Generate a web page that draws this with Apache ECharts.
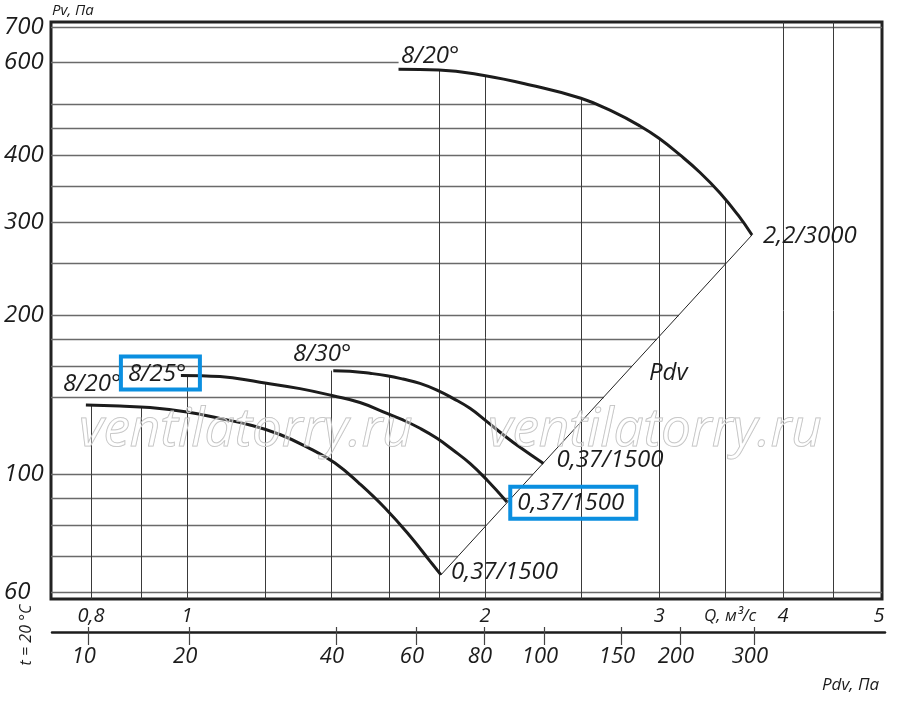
<!DOCTYPE html>
<html>
<head>
<meta charset="utf-8">
<script src="https://cdn.jsdelivr.net/npm/echarts@6/dist/echarts.min.js"></script>
<style>
html,body{margin:0;padding:0;background:#fff;}
#c{width:900px;height:702px;}
</style>
</head>
<body>
<div id="c"></div>
<script>
// ---------- axis ranges ----------
const Q_MIN = 0.729, Q_MAX = 5.035;        // flow Q, m³/s (log)
const PV_MIN = 58.17, PV_MAX = 715.1;      // pressure Pv, Pa (log)
const PDQ_MIN = 0.7305, PDQ_MAX = 5.0705;  // Pdv scale line, expressed in Q

// ---------- tick labels ----------
const qTickLabels = [0.8, 1, 2, 3, 4, 5];
const pvTickLabels = [60, 100, 200, 300, 400, 600, 700];
const pdvTickLabels = [10, 20, 40, 60, 80, 100, 150, 200, 300];
const pdvTickQ = [0.794, 1.005, 1.414, 1.703, 1.995, 2.294, 2.744, 3.147, 3.738];

// ---------- grid lines (value, where they stop) ----------
const pvGridValues = [60, 70, 80, 90, 100, 140, 160, 180, 200, 250, 300, 350, 400, 450, 500, 600, 700];
const pvGridEndQ   = [null, 1.878, 2.005, 2.124, 2.236, 2.637, 2.815, 2.982, 3.140, 3.503, 3.642, 3.409, 3.15, 2.894, 2.584, 1.636, null];
const qGridValues  = [0.8, 0.9, 1.0, 1.2, 1.4, 1.6, 1.8, 2.0, 2.5, 3.0, 3.5, 4.0, 4.5];
const qGridTopPv   = [135.1, 134.0, 153.6, 148.5, 157.0, 153.4, 580.4, 566.5, 513.3, 431.0, 330.5, null, null];

// ---------- fan curves ----------
// 8/20°, 2,2/3000
const curveA_Q  = [1.6357, 1.797, 1.9953, 2.2206, 2.4998, 2.6934, 2.868, 2.9976, 3.1476, 3.2975, 3.4545, 3.6022, 3.7215];
const curveA_Pv = [582.2, 580.4, 566.6, 543.7, 513.3, 484.2, 455.0, 431.3, 401.1, 371.7, 340.0, 309.0, 283.2];
// 8/30°, 0,37/1500
const curveB_Q  = [1.4054, 1.461, 1.5306, 1.5923, 1.6527, 1.7193, 1.7887, 1.8565, 1.9313, 2.0093, 2.0854, 2.1695, 2.2914];
const curveB_Pv = [157.0, 156.6, 155.2, 153.6, 151.4, 148.6, 144.3, 139.2, 133.3, 125.8, 118.95, 112.5, 104.9];
// 8/25°, 0,37/1500
const curveC_Q  = [0.9861, 1.0798, 1.185, 1.3006, 1.4043, 1.4954, 1.5923, 1.6527, 1.7193, 1.7887, 1.8565, 1.9313, 2.0093, 2.1049];
const curveC_Pv = [153.8, 153.0, 149.3, 145.2, 140.75, 136.7, 130.4, 126.7, 122.2, 117.0, 111.2, 104.9, 97.6, 88.7];
// 8/20°, 0,37/1500
const curveD_Q  = [0.7906, 0.8557, 0.9176, 1.0, 1.0798, 1.1578, 1.2415, 1.3312, 1.4109, 1.4954, 1.5849, 1.6799, 1.7598, 1.8054];
const curveD_Pv = [135.2, 134.6, 133.75, 131.2, 127.5, 124.0, 118.95, 111.9, 105.1, 95.9, 86.4, 76.5, 68.6, 64.6];
// Pdv line
const pdvLine_Q  = [1.8054, 3.7215];
const pdvLine_Pv = [64.6, 283.2];

const FONT = "'Open Sans', 'DejaVu Sans', sans-serif";
const INK = '#1c1c1c';
const BLUE = '#0b8fe0';

const zip = (a, b) => a.map((v, i) => [v, b[i]]);
const fmtNum = v => String(+v.toFixed(4)).replace('.', ',');

const hLines = pvGridValues.map((v, i) => ({ coords: [[Q_MIN, v], [pvGridEndQ[i] == null ? Q_MAX : pvGridEndQ[i], v]] }));
const vLines = qGridValues.map((q, i) => ({ coords: [[q, PV_MIN], [q, qGridTopPv[i] == null ? PV_MAX : qGridTopPv[i]]] }));

function curveSeries(q, p) {
  return {
    type: 'line', xAxisIndex: 0, yAxisIndex: 0, data: zip(q, p),
    smooth: 0.45, showSymbol: false, silent: true, z: 5,
    lineStyle: { color: INK, width: 3 }
  };
}

const chart = echarts.init(document.getElementById('c'));

const option = {
  animation: false,
  backgroundColor: '#fff',
  grid: [
    { left: 51, top: 22, width: 831, height: 577, show: true, borderColor: '#222', borderWidth: 3, backgroundColor: 'transparent' },
    { left: 52, top: 620, width: 833, height: 12, show: false }
  ],
  xAxis: [
    {
      gridIndex: 0, type: 'log', min: Q_MIN, max: Q_MAX,
      axisLine: { show: false }, axisTick: { show: false }, splitLine: { show: false },
      axisLabel: {
        customValues: qTickLabels, formatter: v => fmtNum(v), margin: 7,
        fontSize: 20, fontStyle: 'italic', fontFamily: FONT, color: INK
      }
    },
    {
      gridIndex: 1, type: 'log', min: PDQ_MIN, max: PDQ_MAX, position: 'bottom',
      axisLine: { show: true, lineStyle: { color: INK, width: 2.5 } },
      axisTick: { show: true, customValues: pdvTickQ, length: 13, lineStyle: { color: '#444', width: 1.2 } },
      splitLine: { show: false },
      axisLabel: {
        customValues: pdvTickQ,
        formatter: v => {
          let best = 0;
          pdvTickQ.forEach((q, i) => { if (Math.abs(q - v) < Math.abs(pdvTickQ[best] - v)) best = i; });
          return String(pdvTickLabels[best]);
        },
        margin: 14, padding: [0, 8, 0, 0],
        fontSize: 22, fontStyle: 'italic', fontFamily: FONT, color: INK
      }
    },
    {
      gridIndex: 1, type: 'log', min: PDQ_MIN, max: PDQ_MAX, position: 'bottom', offset: 0,
      axisLine: { show: false },
      axisTick: { show: true, inside: true, customValues: pdvTickQ, length: 5, lineStyle: { color: '#444', width: 1.2 } },
      axisLabel: { show: false }, splitLine: { show: false }
    }
  ],
  yAxis: [
    {
      gridIndex: 0, type: 'log', min: PV_MIN, max: PV_MAX,
      axisLine: { show: false }, axisTick: { show: false }, splitLine: { show: false },
      axisLabel: {
        customValues: pvTickLabels, formatter: v => String(Math.round(v)),
        align: 'left', margin: 47,
        fontSize: 24, fontStyle: 'italic', fontFamily: FONT, color: INK
      }
    },
    { gridIndex: 1, type: 'value', min: 0, max: 1, show: false }
  ],
  series: [
    {
      type: 'lines', coordinateSystem: 'cartesian2d', xAxisIndex: 0, yAxisIndex: 0,
      silent: true, z: 1, data: hLines,
      lineStyle: { color: '#6a6a6a', width: 1.4, opacity: 1, curveness: 0 }
    },
    {
      type: 'lines', coordinateSystem: 'cartesian2d', xAxisIndex: 0, yAxisIndex: 0,
      silent: true, z: 2, data: vLines,
      lineStyle: { color: '#3a3a3a', width: 1, opacity: 1, curveness: 0 }
    },
    {
      type: 'line', xAxisIndex: 0, yAxisIndex: 0, data: zip(pdvLine_Q, pdvLine_Pv),
      showSymbol: false, silent: true, z: 3, lineStyle: { color: '#222', width: 1 }
    },
    curveSeries(curveA_Q, curveA_Pv),
    curveSeries(curveB_Q, curveB_Pv),
    curveSeries(curveC_Q, curveC_Pv),
    curveSeries(curveD_Q, curveD_Pv)
  ]
};

chart.setOption(option);

// ---------- labels anchored to curve ends ----------
const last = a => a[a.length - 1];
const curveLabels = [
  { text: '8/20°',     q: curveA_Q[0],    p: curveA_Pv[0],    dx: 2.5,  dy: -13.3 },
  { text: '2,2/3000',  q: last(curveA_Q), p: last(curveA_Pv), dx: 11,   dy: 1 },
  { text: '8/30°',     q: curveB_Q[0],    p: curveB_Pv[0],    dx: -40.3, dy: -16.7 },
  { text: '0,37/1500', q: last(curveB_Q), p: last(curveB_Pv), dx: 13,   dy: -3.5 },
  { text: '8/25°',     q: curveC_Q[0],    p: curveC_Pv[0],    dx: -53,  dy: -1.3, box: [-60, -19, 79, 33] },
  { text: '0,37/1500', q: last(curveC_Q), p: last(curveC_Pv), dx: 10.3, dy: 0.7, box: [3.3, -15.3, 126, 32] },
  { text: '8/20°',     q: curveD_Q[0],    p: curveD_Pv[0],    dx: -23,  dy: -21 },
  { text: '0,37/1500', q: last(curveD_Q), p: last(curveD_Pv), dx: 10,   dy: -2.5 },
  { text: 'Pdv',       q: last(pdvLine_Q), p: last(pdvLine_Pv), dx: -103, dy: 138 }
];

const graphics = [];
// watermarks
['wm1', 'wm2'].forEach((id, i) => {
  graphics.push({
    type: 'text', id, x: i === 0 ? 79 : 488, y: 431, z: 50, silent: true,
    style: {
      text: 'ventilatorry.ru', fontSize: 53, fontStyle: 'italic', fontFamily: FONT,
      fill: 'rgba(255,255,255,0.35)', stroke: '#bcbcbc', lineWidth: 1,
      align: 'left', verticalAlign: 'middle'
    }
  });
});

curveLabels.forEach((l, i) => {
  const pt = chart.convertToPixel({ gridIndex: 0 }, [l.q, l.p]);
  graphics.push({
    type: 'text', id: 'cl' + i, x: pt[0] + l.dx, y: pt[1] + l.dy, z: 60, silent: true,
    style: {
      text: l.text, fontSize: 24, fontStyle: 'italic', fontFamily: FONT, fill: INK,
      align: 'left', verticalAlign: 'middle'
    }
  });
  if (l.box) {
    graphics.push({
      type: 'rect', id: 'bx' + i, z: 61, silent: true,
      shape: { x: pt[0] + l.box[0], y: pt[1] + l.box[1], width: l.box[2], height: l.box[3] },
      style: { fill: 'none', stroke: BLUE, lineWidth: 4 }
    });
  }
});

// axis titles
graphics.push(
  { type: 'text', id: 't1', x: 52, y: 11, z: 60, style: { text: 'Pv, Па', fontSize: 15, fontStyle: 'italic', fontFamily: FONT, fill: INK, align: 'left', verticalAlign: 'middle' } },
  { type: 'text', id: 't2', x: 704, y: 616, z: 60, style: { text: 'Q, м³/с', fontSize: 17, fontStyle: 'italic', fontFamily: FONT, fill: INK, align: 'left', verticalAlign: 'middle' } },
  { type: 'text', id: 't3', x: 822, y: 685, z: 60, style: { text: 'Pdv, Па', fontSize: 17, fontStyle: 'italic', fontFamily: FONT, fill: INK, align: 'left', verticalAlign: 'middle' } },
  { type: 'text', id: 't4', x: 26, y: 635, rotation: Math.PI / 2, z: 60, style: { text: 't = 20 °C', fontSize: 16, fontStyle: 'italic', fontFamily: FONT, fill: INK, align: 'center', verticalAlign: 'middle' } }
);

chart.setOption({ graphic: graphics });
</script>
</body>
</html>
